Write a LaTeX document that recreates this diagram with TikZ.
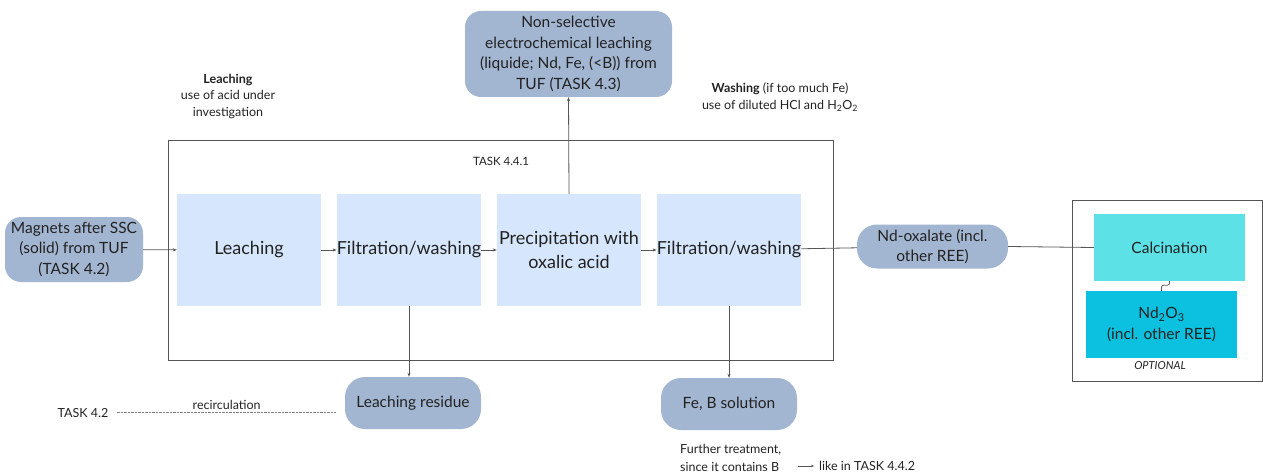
\documentclass[tikz,border=0pt]{standalone}
\usepackage{fontspec}
\setmainfont{Lato}
\usetikzlibrary{arrows.meta}
\definecolor{boxblue}{HTML}{D6E6FC}
\definecolor{nodeblue}{HTML}{A3B6D1}
\definecolor{calccol}{HTML}{5CE1E6}
\definecolor{ndocol}{HTML}{0CC0DF}
\definecolor{txt}{HTML}{222222}
\definecolor{ln}{HTML}{555555}
\begin{document}
\begin{tikzpicture}[x=1pt,y=-1pt,
  every node/.style={text=txt},
  proc/.style={fill=boxblue, minimum width=144, minimum height=112, inner sep=0, align=center, font=\fontsize{18}{24}\selectfont},
  rnode/.style={fill=nodeblue, rounded corners=16, inner sep=0, align=center, font=\fontsize{15.5}{20.7}\selectfont},
  optbox/.style={inner sep=0, align=center, minimum width=151, minimum height=67, font=\fontsize{15.5}{21}\selectfont},
  note/.style={align=center, inner sep=0, font=\fontsize{12.5}{17}\selectfont},
  small/.style={inner sep=0, font=\fontsize{12.5}{15}\selectfont},
  conn/.style={draw=ln, line width=0.8},
  arr/.style={conn, -{Stealth[length=4,width=3]}}
]
\useasboundingbox (0,0) rectangle (1263,473);

% frames
\draw[ln, line width=0.8] (168,140) rectangle (833,360);
\node[font=\fontsize{11.5}{13}\selectfont, inner sep=0] (t441) at (501,161) {TASK 4.4.1};
\draw[ln, line width=0.8] (1072,200) rectangle (1262,381);

% process boxes
\node[proc] (b1) at (249,250) {Leaching};
\node[proc] (b2) at (409,250) {Filtration/washing};
\node[proc] (b3) at (569,250) {Precipitation with\\oxalic acid};
\node[proc] (b4) at (729,250) {Filtration/washing};

% rounded nodes
\node[rnode, minimum width=138, minimum height=65] (mag) at (74,249.5) {Magnets after SSC\\(solid) from TUF\\(TASK 4.2)};
\node[rnode, minimum width=207, minimum height=86] (top) at (568.5,54) {Non-selective\\electrochemical leaching\\(liquide; Nd, Fe, (<B)) from\\TUF (TASK 4.3)};
\node[rnode, rounded corners=20, minimum width=151, minimum height=44] (nd) at (932.5,246.5) {Nd-oxalate (incl.\\other REE)};
\node[rnode, rounded corners=20, minimum width=136, minimum height=52] (res) at (413,403) {Leaching residue};
\node[rnode, rounded corners=20, minimum width=136, minimum height=52] (feb) at (729,404) {Fe, B solution};

% optional nodes
\node[optbox, fill=calccol] (calc) at (1169.5,247.5) {Calcination};
\node[optbox, fill=ndocol] (ndo) at (1161.5,324.5) {Nd\textsubscript{2}O\textsubscript{3}\\(incl. other REE)};
\node[font=\fontsize{11}{12}\selectfont\itshape, inner sep=0] (opt) at (1160,366) {OPTIONAL};

% notes
\node[note, font=\fontsize{12.5}{16.5}\selectfont] (leachnote) at (228,96) {\textbf{Leaching}\\use of acid under\\investigation};
\node[note] (washnote) at (780,97) {\textbf{Washing} (if too much Fe)\\use of diluted HCl and H\textsubscript{2}O\textsubscript{2}};
\node[small] (t42) at (83,413) {TASK 4.2};
\node[note, font=\fontsize{12.5}{18}\selectfont, align=left, anchor=west] (further) at (680,458) {Further treatment,\\since it contains B};
\node[small, anchor=west] (like) at (819,466) {like in TASK 4.4.2};
\coordinate (fa) at (798,466);

% connectors
\draw[arr] (mag) -- (b1);
\draw[arr] (b1) -- (b2);
\draw[arr] (b2) -- (b3);
\draw[arr] (b3) -- (b4);
\draw[conn] (b4) -- (nd);
\draw[arr] (b3.north) -- (top.south);
\draw[arr] (b2.south) -- (b2.south |- res.north);
\draw[arr] (b4.south) -- (feb.north);
\draw[conn] (nd.east) -- (calc.west);
\draw[conn, rounded corners=2] (calc.south) -- ++(0,4) -| (ndo.north);
\draw[draw=gray, line width=0.7, dash pattern=on 0.8pt off 0.6pt, shorten <=9, shorten >=8] (res.west |- 0,412) -- node[above=1pt, font=\fontsize{12.5}{14}\selectfont, inner sep=1] (recirc) {recirculation} (t42.east |- 0,412) ;
\draw[conn, line width=0.6, shorten >=5, -{Stealth[length=3,width=2.5]}] (fa) -- (like.west);
\end{tikzpicture}
\end{document}
